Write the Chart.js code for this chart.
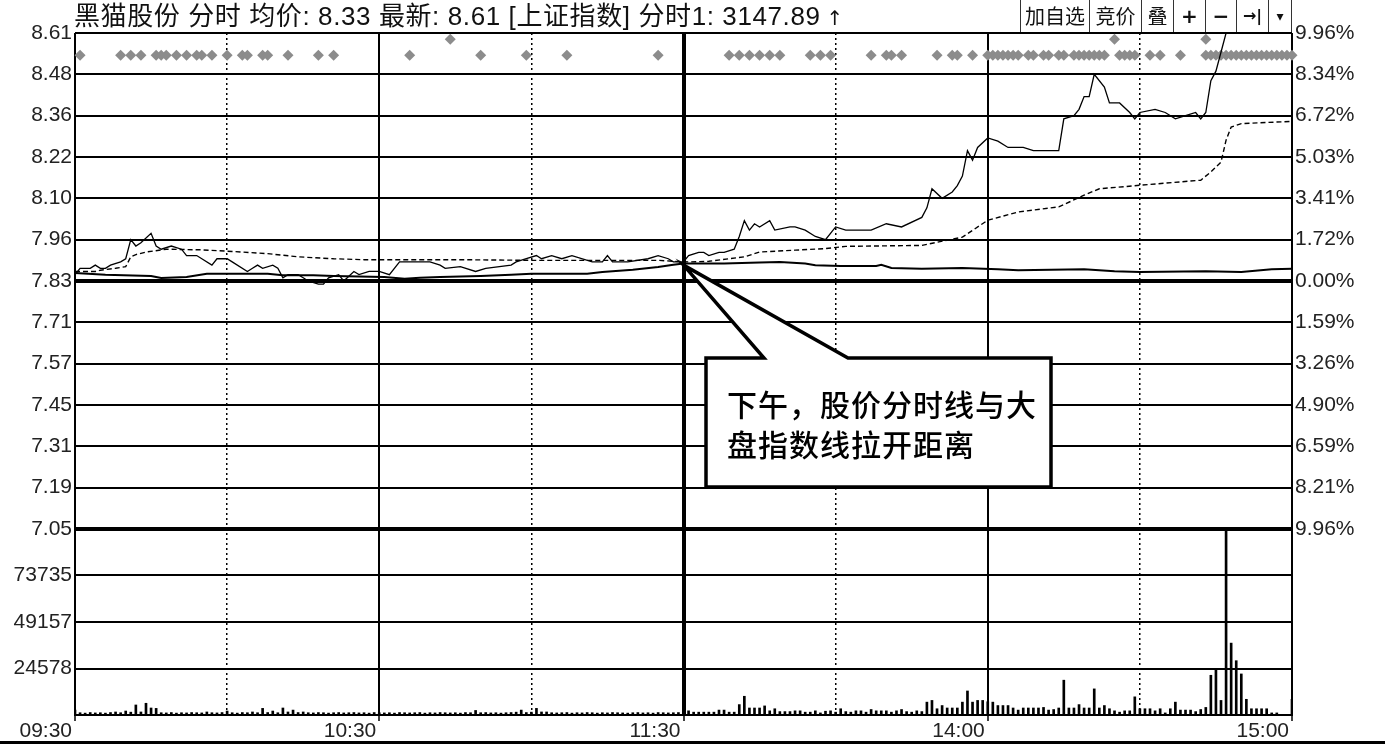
<!DOCTYPE html>
<html>
<head>
<meta charset="utf-8">
<script src="https://cdn.jsdelivr.net/npm/chart.js@4.4.0/dist/chart.umd.min.js"></script>
<style>
  html, body { margin: 0; padding: 0; background: #fff; }
  #wrap { position: relative; width: 1385px; height: 746px; overflow: hidden; background: #fff; }
  #chart { position: absolute; left: 0; top: 0; }
  #head { position: absolute; left: 74px; top: 0; height: 32px; line-height: 32px; font-size: 26px; letter-spacing: 0.6px;
          font-family: "Liberation Sans", "Noto Sans CJK SC", sans-serif; color: #111; white-space: pre; }
  #head .up { font-family: "DejaVu Sans"; font-size: 20px; margin-left: 6px; }
  #btns { position: absolute; left: 1020px; top: 0; height: 32px; display: flex; border-right: 1px solid #333; }
  #btns span { border-left: 1px solid #333; height: 32px; line-height: 32px; text-align: center;
               font-size: 20px; font-family: "Noto Sans CJK SC", sans-serif; color: #111; }
  #note { position: absolute; left: 727px; top: 383px; font-family: "Noto Sans CJK SC", sans-serif; font-weight: 500;
          font-size: 30px; line-height: 40px; letter-spacing: 1px; color: #000; white-space: pre; }
  #frame { position: absolute; left: 0; top: 741px; width: 1385px; height: 3px; background: #000; }
</style>
</head>
<body>
<div id="wrap">
  <canvas id="chart" width="1385" height="746"></canvas>
  <div id="head"></div>
  <div id="btns">
    <span style="width:68px">加自选</span><span style="width:51px">竞价</span><span style="width:31px">叠</span><span style="width:31px;font-weight:bold;font-family:'DejaVu Sans'">+</span><span style="width:30px;font-weight:bold;font-family:'DejaVu Sans'">−</span><span style="width:31px;font-weight:bold;font-family:'DejaVu Sans';font-size:16px">→|</span><span style="width:22px;font-family:'DejaVu Sans';font-size:14px">▾</span>
  </div>
  <div id="note">下午，股价分时线与大
盘指数线拉开距离</div>
  <div id="frame"></div>
</div>
<script>
// ---- data ----
const stockName = '黑猫股份';
const indexName = '上证指数';
const indexLast = '3147.89';
const timeLabels = ['09:30', '10:30', '11:30', '14:00', '15:00'];
const priceLabels = ['7.05', '7.19', '7.31', '7.45', '7.57', '7.71', '7.83', '7.96', '8.10', '8.22', '8.36', '8.48', '8.61'];
const pctLabels = ['9.96%', '8.21%', '6.59%', '4.90%', '3.26%', '1.59%', '0.00%', '1.72%', '3.41%', '5.03%', '6.72%', '8.34%', '9.96%'];
const volTicks = [24578, 49157, 73735];

const PRICE_MIN = 7.05;
const PRICE_MAX = 8.61;
const LIMIT_PCT = 9.96;
const VOL_MAX = 98313;

// [minute from 09:30, price]
const stockLine = [
  [0,7.85],[1,7.87],[3,7.87],[4,7.88],[5,7.87],[6,7.87],[7,7.88],[9,7.89],[10,7.90],[11,7.96],
  [12,7.94],[13,7.95],[15,7.98],[16,7.94],[17,7.93],[19,7.94],[21,7.93],[22,7.91],[24,7.91],[27,7.88],
  [28,7.90],[30,7.90],[31,7.89],[34,7.86],[35,7.87],[36,7.88],[37,7.87],[39,7.88],[40,7.87],[41,7.84],
  [42,7.85],[44,7.85],[45,7.84],[46,7.83],[48,7.82],[49,7.82],[50,7.84],[52,7.85],[53,7.83],[55,7.86],
  [56,7.85],[58,7.86],[60,7.86],[62,7.85],[64,7.89],[70,7.89],[72,7.88],[73,7.87],[76,7.875],[79,7.86],
  [81,7.87],[86,7.88],[87,7.89],[89,7.90],[91,7.91],[92,7.90],[94,7.91],[96,7.90],[98,7.91],[102,7.89],
  [104,7.89],[105,7.91],[106,7.89],[109,7.89],[113,7.90],[115,7.91],[117,7.90],[118,7.89],[120,7.89],
  [121,7.91],[123,7.92],[124,7.92],[125,7.91],[127,7.92],[128,7.92],[130,7.93],[131,7.97],[132,8.02],[133,7.99],
  [134,8.01],[135,8.00],[137,8.02],[138,7.99],[141,8.00],[142,8.00],[144,7.99],[146,7.97],[148,7.96],[150,8.00],
  [152,7.99],[157,7.99],[160,8.01],[163,8.00],[167,8.03],[168,8.06],[169,8.12],[171,8.09],[173,8.11],[174,8.13],
  [175,8.16],[176,8.24],[177,8.21],[178,8.25],[180,8.28],[182,8.27],[184,8.25],[186,8.25],[187,8.25],[189,8.24],
  [191,8.24],[192,8.24],[194,8.24],[195,8.34],[197,8.35],[198,8.37],[199,8.41],[200,8.41],[201,8.48],[203,8.44],
  [204,8.39],[206,8.39],[208,8.36],[209,8.34],[210,8.36],[213,8.37],[215,8.36],[217,8.34],[219,8.35],[221,8.36],
  [222,8.34],[223,8.36],[224,8.46],[225,8.49],[227,8.61],[240,8.61]
];

// [minute, average price]
const avgLine = [
  [0,7.86],[4,7.86],[5,7.864],[8,7.87],[10,7.875],[11,7.906],[12,7.913],[14,7.921],[18,7.93],[25,7.928],
  [31,7.923],[38,7.916],[44,7.906],[51,7.90],[57,7.897],[76,7.897],[90,7.895],[115,7.895],[118,7.892],[121,7.89],
  [125,7.892],[132,7.906],[135,7.921],[142,7.927],[148,7.932],[152,7.939],[167,7.942],[175,7.968],[180,8.021],[186,8.047],
  [194,8.063],[199,8.10],[202,8.12],[210,8.131],[222,8.147],[224,8.173],[226,8.204],[227,8.273],[228,8.314],[230,8.325],
  [240,8.332]
];

// [minute, index change %]
const indexLine = [
  [0,0.32],[6,0.25],[15,0.20],[17,0.12],[22,0.16],[26,0.29],[38,0.29],[41,0.23],[47,0.23],[51,0.20],
  [61,0.16],[65,0.09],[68,0.13],[72,0.16],[80,0.20],[86,0.25],[90,0.29],[101,0.29],[104,0.36],[110,0.45],
  [115,0.56],[118,0.65],[120,0.70],[128,0.70],[135,0.74],[139,0.76],[144,0.70],[146,0.63],[151,0.60],[158,0.60],
  [159,0.65],[161,0.52],[167,0.49],[175,0.52],[182,0.47],[186,0.43],[199,0.47],[205,0.39],[210,0.36],[223,0.39],
  [230,0.36],[236,0.47],[240,0.49]
];

// volume per minute, 09:30 .. 15:00 (241 bars)
const volumes = [
  2600,1200,1000,1300,1100,1200,1000,1300,1600,1200,
  2100,1500,5300,1600,6200,3700,3500,1200,1100,1300,
  1000,1200,1100,1300,1200,1100,1600,1200,1100,1300,
  2100,1200,1000,1300,1200,1600,1200,3500,1300,2100,
  1200,3700,1600,2600,1300,1600,1200,1100,1300,1200,
  1000,1200,1300,1100,1200,1300,1100,1200,1000,1300,
  1200,1100,1200,1000,1300,1200,1100,1200,1300,1000,
  1200,1100,1300,1200,1100,1200,1000,1300,1200,2400,
  1200,1300,1100,1200,1000,1200,1300,1500,2600,1300,
  1500,3500,1600,1600,1200,1100,1200,1300,1000,1200,
  1100,1300,1200,1000,1200,1100,1300,1200,1100,1000,
  1200,1300,1100,1200,1000,1300,1200,1100,1200,1300,
  1500,2200,1500,1500,1500,1500,1500,2600,2600,1500,
  1500,5500,9900,3700,3700,3700,4800,2200,3300,1800,
  1800,1800,2200,2200,1500,1500,2200,1100,2000,2200,
  1500,3300,1800,1500,2200,2200,1500,2900,2200,2200,
  2200,1500,2200,2900,1800,1500,2200,1800,6800,7700,
  3300,5000,3700,3700,3700,6800,12700,6800,7700,7700,
  7000,6800,5000,5000,5000,3700,2600,3700,3700,3700,
  3700,4000,2600,2900,3700,18400,3700,3700,5500,3700,
  3700,13800,3700,5000,3300,2200,1500,2200,2200,9600,
  3300,3300,3300,2200,3300,1100,3300,6800,2600,2600,
  2600,1800,2900,4000,21000,23900,7700,98313,38000,28700,
  21700,8300,3300,3300,3300,3300,1100,1100,0,0,
  8300
];

// minutes with a signal diamond
const signalMinutes = [1,9,11,13,16,17,18,20,22,24,25,27,30,33,34,37,38,42,48,51,66,80,89,97,115,
  129,131,133,135,137,139,145,147,149,157,160,161,163,170,173,174,177,180,181,182,183,184,185,186,
  188,189,191,192,194,195,197,198,199,200,201,202,203,206,207,208,209,212,214,218,
  223,224,225,226,227,228,229,230,231,232,233,234,235,236,237,238,239,240];
const signalHighMinutes = [74, 205, 223];

const calloutAt = { minute: 120, price: 7.88 };

// ---- header ----
const lastPrice = stockLine[stockLine.length - 1][1].toFixed(2);
const lastAvg = avgLine[avgLine.length - 1][1].toFixed(2);
document.getElementById('head').innerHTML =
  `${stockName} 分时 均价: ${lastAvg} 最新: ${lastPrice} [${indexName}] 分时1: ${indexLast}<span class="up">↑</span>`;

// ---- chart ----
Chart.defaults.font.family = '"Liberation Sans", Arial, "Noto Sans CJK SC", sans-serif';
Chart.defaults.font.size = 21;
Chart.defaults.color = '#222';

const SIG_ROW = 8.54, SIG_ROW_HIGH = 8.59;

const calloutPlugin = {
  id: 'callout',
  afterDatasetsDraw(chart) {
    const { ctx, scales: { x, y } } = chart;
    const tipX = x.getPixelForValue(calloutAt.minute);
    const tipY = y.getPixelForValue(calloutAt.price);
    const L = 706, T = 358, R = 1051, B = 487;
    ctx.save();
    ctx.beginPath();
    ctx.moveTo(tipX, tipY);
    ctx.lineTo(848, T);
    ctx.lineTo(R, T);
    ctx.lineTo(R, B);
    ctx.lineTo(L, B);
    ctx.lineTo(L, T);
    ctx.lineTo(764, T);
    ctx.closePath();
    ctx.fillStyle = '#fff';
    ctx.fill();
    ctx.lineWidth = 3.5;
    ctx.lineJoin = 'miter';
    ctx.strokeStyle = '#000';
    ctx.stroke();
    ctx.restore();
  }
};

const isHalfHour = c => c.tick && c.tick.value % 60 === 30;

new Chart(document.getElementById('chart').getContext('2d'), {
  type: 'line',
  data: {
    datasets: [{
      label: '价格',
      data: stockLine.map(p => ({ x: p[0], y: p[1] })),
      yAxisID: 'y',
      borderColor: '#000',
      borderWidth: 1.3,
      pointRadius: 0,
      tension: 0
    }, {
      label: '均价',
      data: avgLine.map(p => ({ x: p[0], y: p[1] })),
      yAxisID: 'y',
      borderColor: '#000',
      borderWidth: 1.4,
      borderDash: [5, 3],
      pointRadius: 0,
      tension: 0
    }, {
      label: indexName,
      data: indexLine.map(p => ({ x: p[0], y: p[1] })),
      yAxisID: 'pct',
      borderColor: '#000',
      borderWidth: 2,
      pointRadius: 0,
      tension: 0
    }, {
      label: 'signal',
      data: signalMinutes.map(m => ({ x: m, y: SIG_ROW })).concat(signalHighMinutes.map(m => ({ x: m, y: SIG_ROW_HIGH }))),
      yAxisID: 'y',
      showLine: false,
      pointStyle: 'rectRot',
      pointRadius: 5.5,
      pointBorderWidth: 0,
      pointBackgroundColor: '#8c8c8c',
      clip: false
    }, {
      type: 'bar',
      label: '成交量',
      data: volumes.map((v, i) => ({ x: i, y: v })),
      yAxisID: 'vol',
      backgroundColor: '#000',
      borderWidth: 0,
      barThickness: 2,
      grouped: false
    }]
  },
  options: {
    responsive: false,
    animation: false,
    events: [],
    layout: { padding: { top: 33, left: 0, right: 0, bottom: 0 } },
    plugins: { legend: { display: false }, tooltip: { enabled: false } },
    scales: {
      x: {
        type: 'linear',
        position: 'bottom',
        min: 0,
        max: 240,
        offset: false,
        afterBuildTicks: a => { a.ticks = [0, 30, 60, 90, 120, 150, 180, 210, 240].map(v => ({ value: v })); },
        afterFit: a => { a.height = 31; },
        ticks: {
          autoSkip: false,
          maxRotation: 0,
          align: 'end',
          labelOffset: -3,
          padding: -2,
          color: '#222',
          callback: v => (v % 60 === 0 ? timeLabels[v / 60] : '')
        },
        grid: {
          offset: false,
          color: '#000',
          lineWidth: c => (!c.tick ? 2 : c.tick.value === 120 ? 4 : (c.tick.value % 60 === 30 ? 1.5 : 2)),
          tickLength: 6,
          tickWidth: 1.5,
          tickColor: c => (isHalfHour(c) ? 'rgba(0,0,0,0)' : '#000')
        },
        border: { display: true, color: '#000', width: 2, dash: c => (isHalfHour(c) ? [2, 3] : []) }
      },
      vol: {
        type: 'linear',
        position: 'left',
        stack: 'left',
        stackWeight: 3,
        min: 0,
        max: VOL_MAX,
        afterBuildTicks: a => { a.ticks = [0].concat(volTicks, [VOL_MAX]).map(v => ({ value: v })); },
        afterFit: a => { a.width = 75; },
        ticks: {
          autoSkip: false,
          padding: 3,
          callback: v => (volTicks.includes(v) ? String(v) : '')
        },
        grid: {
          color: '#000',
          drawTicks: false,
          lineWidth: c => (c.tick && volTicks.includes(c.tick.value) ? 2 : 0)
        },
        border: { display: false }
      },
      y: {
        type: 'linear',
        position: 'left',
        stack: 'left',
        stackWeight: 8,
        min: PRICE_MIN,
        max: PRICE_MAX,
        afterBuildTicks: a => {
          const step = (PRICE_MAX - PRICE_MIN) / (priceLabels.length - 1);
          a.ticks = priceLabels.map((_, k) => ({ value: PRICE_MIN + k * step }));
        },
        afterFit: a => { a.width = 75; },
        ticks: {
          autoSkip: false,
          padding: 3,
          callback: (v, i) => priceLabels[i]
        },
        grid: {
          color: '#000',
          drawTicks: false,
          lineWidth: c => (c.index === 0 || c.index === 6 ? 4 : 2)
        },
        border: { display: false }
      },
      pct: {
        type: 'linear',
        position: 'right',
        stack: 'right',
        stackWeight: 8,
        min: -LIMIT_PCT,
        max: LIMIT_PCT,
        afterBuildTicks: a => {
          const step = 2 * LIMIT_PCT / (pctLabels.length - 1);
          a.ticks = pctLabels.map((_, k) => ({ value: -LIMIT_PCT + k * step }));
        },
        afterFit: a => { a.width = 93; },
        ticks: {
          autoSkip: false,
          padding: 3,
          callback: (v, i) => pctLabels[i]
        },
        grid: { display: false, drawTicks: false },
        border: { display: false }
      },
      pctPad: {
        type: 'linear',
        position: 'right',
        stack: 'right',
        stackWeight: 3,
        display: false
      }
    }
  },
  plugins: [calloutPlugin]
});
</script>
</body>
</html>
